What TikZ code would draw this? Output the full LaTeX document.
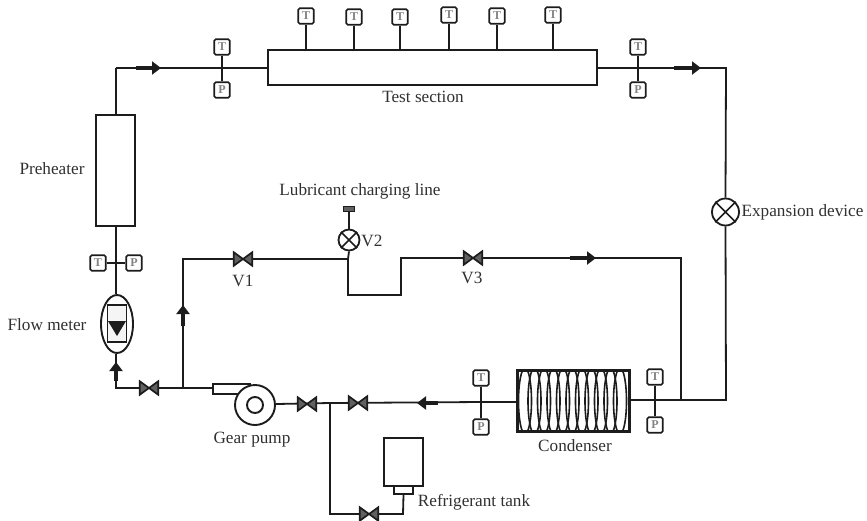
\documentclass[tikz,border=0pt]{standalone}
\usepackage{fontspec}
\setmainfont{Liberation Serif}
\usetikzlibrary{arrows.meta,shapes.geometric,shapes.misc}
\definecolor{ink}{HTML}{1c1c1c}
\definecolor{txt}{HTML}{303030}
\tikzset{
  pipe/.style={draw=ink,line width=1.8pt,line join=miter},
  part/.style={draw=ink,line width=1.9pt,fill=white,inner sep=0pt},
  gauge/.style={draw=ink,line width=1.7pt,rounded corners=1.5pt,fill=white,inner sep=0pt,minimum size=15.5pt,font=\fontsize{12}{12}\selectfont\bfseries,text=txt!60},
  label/.style={font=\fontsize{17.2}{18}\selectfont,text=txt,inner sep=0pt},
  valvebox/.style={inner sep=0pt,minimum width=18pt,minimum height=13pt},
  valveline/.style={draw=ink,line width=1.7pt,fill=ink!70,line join=miter},
  flow/.style={draw=ink,line width=4pt,-{Triangle[length=9pt,width=13pt]}},
  xvalve/.style={circle,draw=ink,line width=1.8pt,fill=white,inner sep=0pt},
}
\newcommand{\valve}[2]{\node[valvebox] (#1) at (#2) {};
  \draw[valveline] (#1.north west)--(#1.south east)--(#1.north east)--(#1.south west)--cycle;}
\newcommand{\crossmark}[1]{\draw[draw=ink,line width=1.7pt] (#1.north west)--(#1.south east) (#1.north east)--(#1.south west);}
\begin{document}
\begin{tikzpicture}[x=1pt,y=-1pt]
\useasboundingbox (0,0) rectangle (867,520);
% anchor points
\coordinate (tl) at (116,68);
\coordinate (tr) at (726,68);
\coordinate (br) at (726,400);
\coordinate (jr) at (681,400);
\coordinate (mr) at (681,258);
\coordinate (fl) at (116,388);
\coordinate (jb) at (183,388);
\coordinate (ml) at (183,259);
\coordinate (j2) at (348,259);
\coordinate (u1) at (348,295);
\coordinate (u2) at (401,295);
\coordinate (u3) at (401,258);
\coordinate (jt) at (330,403);
\coordinate (tb) at (330,514);
\coordinate (tc) at (403,514);
\coordinate (j5) at (481,402);
% main components
\node[part,minimum width=329pt,minimum height=35pt] (test) at (432.5,67.5) {};
\node[part,minimum width=39pt,minimum height=111pt] (pre) at (115.5,170.5) {};
\node[part,minimum width=39pt,minimum height=48pt] (tank) at (403.5,462) {};
\node[part,minimum width=19pt,minimum height=8pt] (tankb) at (403.5,490) {};
\node[xvalve,minimum size=27pt] (exp) at (725.5,212) {};
\node[xvalve,minimum size=21pt] (v2) at (349,240) {};
\node[part,ellipse,minimum width=32pt,minimum height=58pt] (fm) at (117,324) {};
\node[part,minimum width=111pt,minimum height=60pt] (cond) at (573.5,401) {};
\node[part,minimum width=37pt,minimum height=10pt] (pumpb) at (231.5,389) {};
\node[part,circle,minimum size=40pt] (pump) at (255,405) {};
\node[part,circle,minimum size=16pt] (pumpi) at (255,405) {};
\node[draw=ink,fill=ink!70,line width=1.2pt,minimum width=11pt,minimum height=5pt,inner sep=0pt] (cap) at (349,209) {};
% pipes
\draw[pipe] (tl)--(test.west |- tl);
\draw[pipe] (test.east |- tr)--(tr)--(exp.north);
\draw[pipe] (exp.south)--(br)--(cond.east |- br);
\draw[pipe] (jr)--(mr)--(u3)--(u2)--(u1)--(j2)--(ml)--(jb);
\draw[pipe] (v2.south)--(j2);
\draw[pipe] (v2.north)--(cap.south);
\draw[pipe] (pre.north -| tl)--(tl);
\draw[pipe] (pre.south -| tl)--(fm.north -| tl);
\draw[pipe] (fm.south -| fl)--(fl)--(pumpb.west |- fl);
\draw[pipe] (cond.west |- j5)--(j5)--(jt);
\draw[pipe] (jt)--(pump.east |- 0,404);
\draw[pipe] (jt)--(tb)--(tc)--(tankb.south);
% valves
\valve{vf}{149,388}
\valve{v1}{243,259}
\valve{v3}{473,258}
\valve{vp}{307,404}
\valve{vq}{358,403}
\valve{vt}{369,514}
\crossmark{exp}
\crossmark{v2}
% condenser coil
\begin{scope}
\clip (cond.north west) rectangle (cond.south east);
\foreach \cx in {525,534.5,544,553.5,563,572.5,582,591.5,601,610.5,620}{
  \draw[ink,line width=1.6pt] (\cx,401) ellipse [x radius=6.5,y radius=33];
}
\end{scope}
\draw[ink,line width=1.9pt] (cond.north west) rectangle (cond.south east);
% flow meter interior
\draw[draw=ink,line width=1.7pt,fill=gray!8] (107.5,305) rectangle (126.5,342);
\fill[ink] (108,321) -- (126,321) -- (117,336) -- cycle;
% gauges
\foreach \n/\x/\y/\t in {a/306/16/T,b/354/17/T,c/400/17/T,d/449/15/T,e/497/16/T,f/553/15/T}{
  \node[gauge] (g\n) at (\x,\y) {\t};
  \draw[pipe] (g\n.south)--(\x,50);
}
\node[gauge] (t1) at (222,47) {T};
\node[gauge] (p1) at (222,90) {P};
\draw[pipe] (t1)--(p1);
\node[gauge] (t2) at (638,47) {T};
\node[gauge] (p2) at (638,90) {P};
\draw[pipe] (t2)--(p2);
\node[gauge] (t3) at (98,263) {T};
\node[gauge] (p3) at (134,263) {P};
\draw[pipe] (t3)--(p3);
\node[gauge] (t4) at (481,378) {T};
\node[gauge] (p4) at (481,427) {P};
\draw[pipe] (t4)--(p4);
\node[gauge] (t5) at (655,377) {T};
\node[gauge] (p5) at (655,425) {P};
\draw[pipe] (t5)--(p5);
% flow arrows
\draw[flow] (136,68)--(161,68);
\draw[flow] (674,68)--(701,68);
\draw[flow] (570,258)--(596,258);
\draw[flow] (183,326)--(183,305);
\draw[flow] (116,381)--(116,362);
\draw[flow] (438,403)--(417,403);
% labels
\node[label] (lpre) at (52,169) {Preheater};
\node[label] (lfm) at (47,325) {Flow meter};
\node[label] (lts) at (423,97) {Test section};
\node[label] (llc) at (360,191) {Lubricant charging line};
\node[label] (lv2) at (372,241) {V2};
\node[label] (lv1) at (243,281) {V1};
\node[label] (lv3) at (472,278) {V3};
\node[label] (lex) at (802.5,212) {Expansion device};
\node[label] (lgp) at (252,440) {Gear pump};
\node[label] (lco) at (575,446) {Condenser};
\node[label] (lrt) at (474,502) {Refrigerant tank};
\end{tikzpicture}
\end{document}
